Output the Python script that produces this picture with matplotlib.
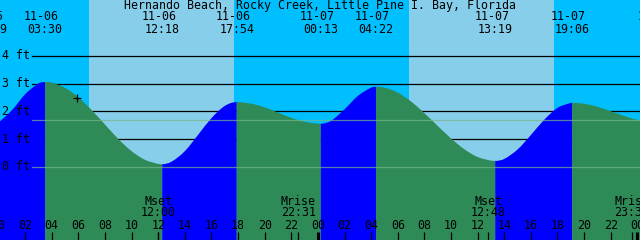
import numpy as np
import matplotlib
matplotlib.use("Agg")
import matplotlib.pyplot as plt
from matplotlib.path import Path
from matplotlib.patches import PathPatch
from matplotlib.transforms import blended_transform_factory, offset_copy

title = "Hernando Beach, Rocky Creek, Little Pine I. Bay, Florida"

# hours since 11-06 00:00 and tide height (ft)
tide_hours = [0, 1, 2, 3, 3.5, 4, 5, 6, 7, 8, 9, 10, 11, 12, 12.3, 13, 14, 15, 16, 17, 17.9,
              18, 19, 20, 21, 22, 23, 24, 24.22, 25, 26, 27, 28, 28.37, 29, 30, 31, 32, 33,
              34, 35, 36, 37, 37.32, 38, 39, 40, 41, 42, 43, 43.1, 44, 45, 46, 47, 48, 49]
tide_feet = [1.60, 2.04, 2.62, 3.01, 3.06, 3.04, 2.85, 2.51, 2.05, 1.53, 1.01, 0.57, 0.26, 0.11,
             0.10, 0.19, 0.57, 1.16, 1.76, 2.20, 2.34, 2.34, 2.28, 2.15, 1.96, 1.77, 1.63, 1.56,
             1.56, 1.67, 2.08, 2.56, 2.86, 2.89, 2.86, 2.68, 2.36, 1.94, 1.48, 1.03, 0.64, 0.36,
             0.23, 0.22, 0.29, 0.63, 1.15, 1.70, 2.13, 2.31, 2.31, 2.28, 2.17, 2.01, 1.84, 1.70,
             1.63]

# high / low tide events
ext_hours = [-0.68, 3.5, 12.3, 17.9, 24.22, 28.37, 37.32, 43.1, 49.6]
ext_dates = ["11-05", "11-06", "11-06", "11-06", "11-07", "11-07", "11-07", "11-07", "11-08"]
ext_times = ["23:19", "03:30", "12:18", "17:54", "00:13", "04:22", "13:19", "19:06", "01:36"]

# sun
sunrise_hours = [6.80, 30.83]
sunset_hours = [17.68, 41.73]

# moon
moon_hours = [12.0, 22.52, 36.8, 47.6]
moon_names = ["Mset", "Mrise", "Mset", "Mrise"]
moon_times = ["12:00", "22:31", "12:48", "23:36"]

# levels
level_ft = [0, 1, 2, 3, 4]
level_labels = ["0 ft", "1 ft", "2 ft", "3 ft", "4 ft"]
black_levels = [1, 2, 3, 4]
light_levels = [0, 1.69]

now_hour = 5.93
now_ft = 2.49

hour_ticks = list(range(0, 49, 2))
hour_labels = ["%02d" % (h % 24) for h in hour_ticks]
midnights = [0, 24, 48]

NIGHT = "#00BFFF"
DAY = "#87CEEB"
RISE = "#0000FF"
FALL = "#2E8B57"
FONT = dict(family="DejaVu Sans Mono", size=8.4, color="black")

fig = plt.figure(figsize=(6.4, 2.4), dpi=100)
ax = fig.add_axes([0, 0, 1, 1])
ax.set_axis_off()
ax.set_xlim(0.113, 48.2)
ax.set_ylim(-2.631, 6.018)

# background
ax.add_patch(plt.Rectangle((0, 0), 1, 1, transform=ax.transAxes, color=NIGHT, zorder=0))
for sr, ss in zip(sunrise_hours, sunset_hours):
    ax.axvspan(sr, ss, color=DAY, zorder=0.5, lw=0)

# black level lines (behind the water)
for lv in black_levels:
    ax.axhline(lv, xmin=32 / 640, xmax=1, color="black", lw=0.9, zorder=1)

t = np.array(tide_hours, dtype=float)
h = np.array(tide_feet, dtype=float)
ybot = ax.get_ylim()[0]
ext_set = set(ext_hours)


def smooth_fill(ts, hs, color):
    n = len(ts)
    m = np.zeros(n)
    for i in range(n):
        if ts[i] in ext_set:
            m[i] = 0.0
        elif i == 0:
            m[i] = (hs[1] - hs[0]) / (ts[1] - ts[0])
        elif i == n - 1:
            m[i] = (hs[-1] - hs[-2]) / (ts[-1] - ts[-2])
        else:
            m[i] = (hs[i + 1] - hs[i - 1]) / (ts[i + 1] - ts[i - 1])
    verts = [(ts[0], ybot), (ts[0], hs[0])]
    codes = [Path.MOVETO, Path.LINETO]
    for i in range(n - 1):
        dt = ts[i + 1] - ts[i]
        verts += [(ts[i] + dt / 3, hs[i] + m[i] * dt / 3),
                  (ts[i + 1] - dt / 3, hs[i + 1] - m[i + 1] * dt / 3),
                  (ts[i + 1], hs[i + 1])]
        codes += [Path.CURVE4] * 3
    verts += [(ts[-1], ybot), (ts[0], ybot)]
    codes += [Path.LINETO, Path.CLOSEPOLY]
    ax.add_patch(PathPatch(Path(verts, codes), facecolor=color, edgecolor="none", lw=0, zorder=2))


for a, b in zip(ext_hours[:-1], ext_hours[1:]):
    sel = (t >= a) & (t <= b)
    if sel.sum() < 2:
        continue
    ts, hs = t[sel], h[sel]
    col = RISE if hs[-1] > hs[0] else FALL
    smooth_fill(ts, hs, col)

# light lines on top
for lv in light_levels:
    ax.axhline(lv, xmin=32 / 640, xmax=1, color=(0.47, 0.71, 0.53), alpha=0.7, lw=0.9, zorder=3)

# y labels
ytr = blended_transform_factory(ax.transAxes, ax.transData)
for lv, lab in zip(level_ft, level_labels):
    ax.text(2 / 640, lv, lab, transform=ytr, ha="left", va="center", zorder=5, **FONT)

# now marker
ax.plot([now_hour], [now_ft], marker="+", color="black", ms=6, mew=0.9, zorder=5)

# title and tide labels
xtr = blended_transform_factory(ax.transData, ax.transAxes)
ax.text(0.5, 1 - 6 / 240, title, transform=ax.transAxes, ha="center", va="center", **FONT)
date_tr = offset_copy(xtr, fig=fig, x=-3.5, y=0, units="dots")
for eh, ed, et in zip(ext_hours, ext_dates, ext_times):
    ax.text(eh, 1 - 17 / 240, ed, transform=date_tr, ha="center", va="center", clip_on=False, **FONT)
    ax.text(eh, 1 - 29.5 / 240, et, transform=xtr, ha="center", va="center", clip_on=False, **FONT)

# bottom hour ticks
for hh, lab in zip(hour_ticks, hour_labels):
    ax.text(hh, 1 - 225.5 / 240, lab, transform=xtr, ha="center", va="center", **FONT)
    lw = 2.2 if hh in midnights else 0.9
    ax.vlines(hh, 0, 8 / 240, transform=xtr, color="black", lw=lw, zorder=5)

# moon events
for mh, mn, mt in zip(moon_hours, moon_names, moon_times):
    ax.text(mh, 1 - 201.5 / 240, mn, transform=xtr, ha="center", va="center", **FONT)
    ax.text(mh, 1 - 213 / 240, mt, transform=xtr, ha="center", va="center", **FONT)
    ax.vlines(mh, 0, 8 / 240, transform=xtr, color="black", lw=0.9, zorder=5)

fig.savefig("out.png", dpi=100)
